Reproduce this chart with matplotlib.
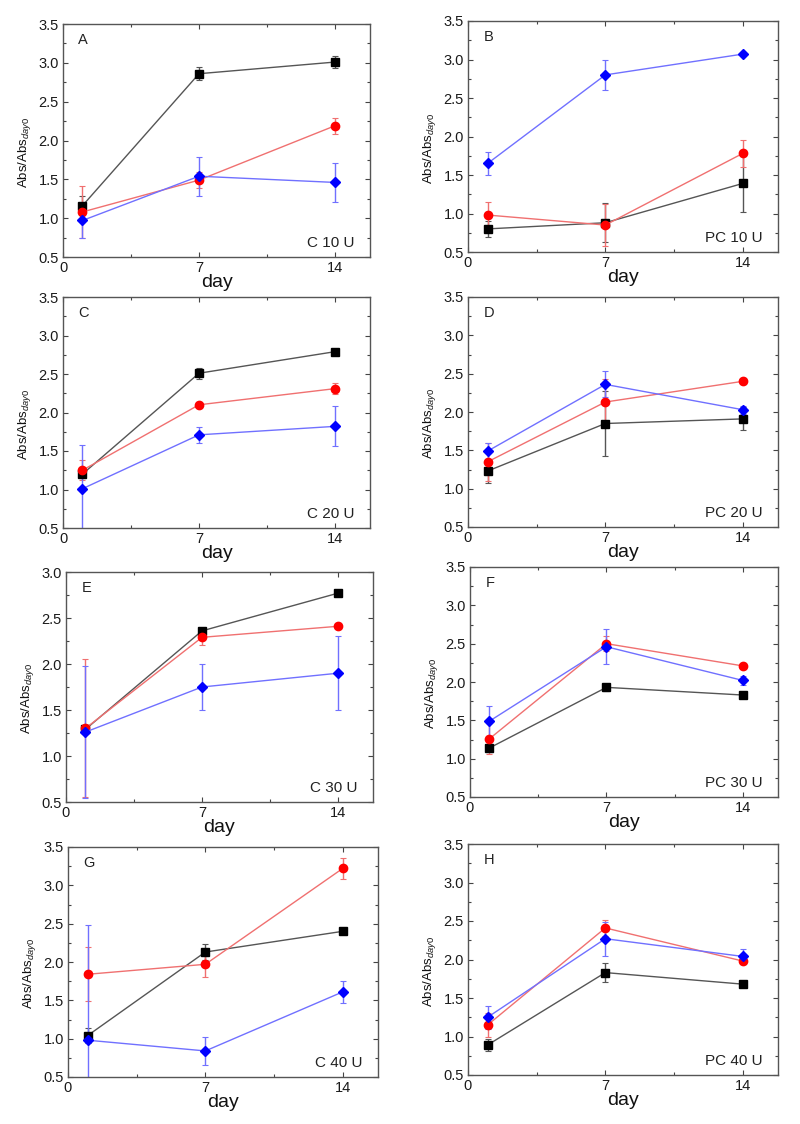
import matplotlib
matplotlib.use('Agg')
import matplotlib.pyplot as plt
from matplotlib.ticker import MultipleLocator

plt.rcParams['font.family'] = ['Liberation Sans', 'DejaVu Sans']
plt.rcParams['mathtext.fontset'] = 'custom'
plt.rcParams['mathtext.rm'] = 'Liberation Sans'
plt.rcParams['mathtext.it'] = 'Liberation Sans:italic'

days = [1, 7, 14]
panel_letters = ['A', 'B', 'C', 'D', 'E', 'F', 'G', 'H']
conditions = ['C 10 U', 'PC 10 U', 'C 20 U', 'PC 20 U',
              'C 30 U', 'PC 30 U', 'C 40 U', 'PC 40 U']
y_top = [3.5, 3.5, 3.5, 3.5, 3.0, 3.5, 3.5, 3.5]
x_ticks = [0, 7, 14]

black_mean = [
    [1.16, 2.86, 3.01],
    [0.80, 0.88, 1.39],
    [1.20, 2.51, 2.79],
    [1.23, 1.85, 1.91],
    [1.29, 2.36, 2.77],
    [1.14, 1.93, 1.83],
    [1.04, 2.13, 2.40],
    [0.89, 1.83, 1.68],
]
black_err = [
    [0.12, 0.08, 0.08],
    [0.10, 0.25, 0.37],
    [0.05, 0.07, 0.03],
    [0.15, 0.42, 0.15],
    [0.05, 0.03, 0.02],
    [0.05, 0.05, 0.04],
    [0.10, 0.10, 0.02],
    [0.08, 0.12, 0.02],
]
red_mean = [
    [1.08, 1.49, 2.19],
    [0.98, 0.85, 1.78],
    [1.25, 2.10, 2.31],
    [1.35, 2.13, 2.40],
    [1.30, 2.29, 2.41],
    [1.26, 2.50, 2.21],
    [1.84, 1.97, 3.22],
    [1.15, 2.41, 1.98],
]
red_err = [
    [0.33, 0.10, 0.10],
    [0.17, 0.27, 0.17],
    [0.13, 0.03, 0.07],
    [0.25, 0.30, 0.02],
    [0.75, 0.08, 0.02],
    [0.20, 0.10, 0.02],
    [0.35, 0.17, 0.14],
    [0.15, 0.10, 0.03],
]
blue_mean = [
    [0.97, 1.54, 1.46],
    [1.65, 2.80, 3.07],
    [1.01, 1.71, 1.82],
    [1.49, 2.36, 2.03],
    [1.26, 1.75, 1.90],
    [1.49, 2.46, 2.02],
    [0.98, 0.84, 1.61],
    [1.25, 2.27, 2.04],
]
blue_err = [
    [0.22, 0.25, 0.25],
    [0.15, 0.19, 0.03],
    [0.57, 0.10, 0.26],
    [0.10, 0.17, 0.05],
    [0.72, 0.25, 0.40],
    [0.20, 0.23, 0.06],
    [1.50, 0.18, 0.14],
    [0.15, 0.22, 0.10],
]

W, H = 800, 1124
fig = plt.figure(figsize=(W / 100, H / 100), dpi=100)

# axes boxes in pixels: (left, top, right, bottom)
boxes = [
    (63, 24, 370, 257), (468, 21, 778, 252),
    (63, 297, 370, 528), (468, 297, 778, 527),
    (66, 572, 373, 802), (470, 567, 778, 797),
    (68, 847, 378, 1077), (468, 844, 778, 1075),
]

series = [
    (black_mean, black_err, 's', '#000000', '#555555', 5.5),
    (red_mean, red_err, 'o', '#ff0000', '#f07070', 6),
    (blue_mean, blue_err, 'D', '#0000ff', '#7070ff', 5.5),
]

for i in range(8):
    l, t, r, b = boxes[i]
    ax = fig.add_axes([l / W, 1 - b / H, (r - l) / W, (b - t) / H])
    for mean, err, mk, mc, lc, ms in series:
        ax.errorbar(days, mean[i], yerr=err[i], fmt='-', marker=mk,
                    color=lc, mfc=mc, mec=mc, ms=ms, lw=1.0,
                    elinewidth=1.0, capsize=2, capthick=0.8, ecolor=lc)
    ax.set_xlim(0, 15.8)
    ax.set_ylim(0.5, y_top[i])
    ax.set_xticks(x_ticks)
    ax.xaxis.set_minor_locator(MultipleLocator(3.5))
    ax.yaxis.set_major_locator(MultipleLocator(0.5))
    ax.yaxis.set_minor_locator(MultipleLocator(0.25))
    ax.yaxis.set_major_formatter(plt.FormatStrFormatter('%.1f'))
    ax.tick_params(which='both', direction='in', top=True, right=True,
                   color='#444444', labelsize=10.5, labelcolor='#1a1a1a', pad=3)
    ax.tick_params(which='major', length=3.5, width=0.8)
    ax.tick_params(which='minor', length=2, width=0.8)
    for sp in ax.spines.values():
        sp.set_color('#555555')
        sp.set_linewidth(1.0)
    ax.set_xlabel('day', fontsize=14, labelpad=-1, color='#111111')
    ax.set_ylabel(r'Abs/Abs$_{\mathit{day0}}$', fontsize=9.5, color='#111111')
    ax.yaxis.set_label_coords(-30 / (r - l), 0.45)
    ax.text(0.05, 0.93, panel_letters[i], transform=ax.transAxes,
            fontsize=10.5, ha='left', va='center', color='#222222')
    ax.text(0.95, 0.06, conditions[i], transform=ax.transAxes,
            fontsize=11, ha='right', va='center', color='#222222')

fig.savefig('out.png', dpi=100)
